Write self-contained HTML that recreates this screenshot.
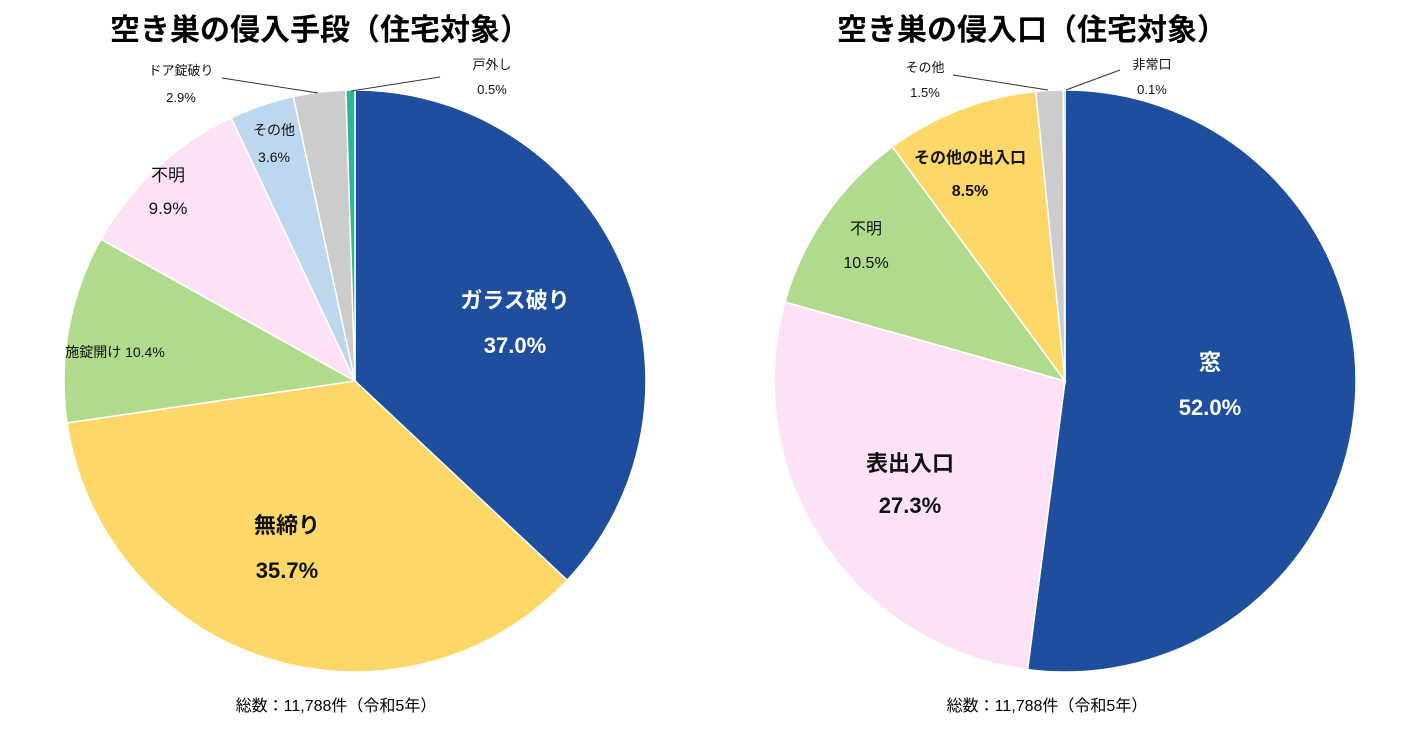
<!DOCTYPE html>
<html><head><meta charset="utf-8">
<style>
body{margin:0;background:#fff;width:1420px;height:726px;overflow:hidden;font-family:"Liberation Sans","Noto Sans CJK JP",sans-serif;}
svg text{font-family:"Liberation Sans","Noto Sans CJK JP",sans-serif;}
</style></head>
<body>
<svg id="chart" width="1420" height="726">
<text x="320" y="40" font-size="30" font-weight="bold" text-anchor="middle">空き巣の侵入手段（住宅対象）</text>
<text x="1032" y="40" font-size="30" font-weight="bold" text-anchor="middle">空き巣の侵入口（住宅対象）</text>
<text x="336" y="711" font-size="16" text-anchor="middle">総数：11,788件（令和5年）</text>
<text x="1047" y="711" font-size="16" text-anchor="middle">総数：11,788件（令和5年）</text>
<g id="left"></g>
<g id="right"></g>
</svg>
<script>
const leftCategories=["ガラス破り","無締り","施錠開け","不明","その他","ドア錠破り","戸外し"];
const leftValues=[37.0,35.7,10.4,9.9,3.6,2.9,0.5];
const leftColors=["#1f4e9f","#fdd868","#b1db8c","#fde1f7","#bcd7ee","#cccccc","#2cb49c"];
const rightCategories=["窓","表出入口","不明","その他の出入口","その他","非常口"];
const rightValues=[52.0,27.3,10.5,8.5,1.5,0.1];
const rightColors=["#1f4e9f","#fde1f7","#b1db8c","#fdd868","#cccccc","#2cb49c"];
const NS="http://www.w3.org/2000/svg";
function angleScale(values){const t=values.reduce((a,b)=>a+b,0);return v=>v/t*2*Math.PI;}
function drawPie(g,cx,cy,r,cats,vals,cols){
  const sc=angleScale(vals);let a=0;
  vals.forEach((v,i)=>{
    const a2=a+sc(v);
    const x1=cx+r*Math.sin(a),y1=cy-r*Math.cos(a),x2=cx+r*Math.sin(a2),y2=cy-r*Math.cos(a2);
    const p=document.createElementNS(NS,"path");
    p.setAttribute("d",`M${cx},${cy}L${x1},${y1}A${r},${r} 0 ${a2-a>Math.PI?1:0} 1 ${x2},${y2}Z`);
    p.setAttribute("fill",cols[i]);p.setAttribute("stroke","#fff");p.setAttribute("stroke-width","1.5");
    
    
    g.appendChild(p);a=a2;
  });
}
drawPie(document.getElementById("left"),355,381,291,leftCategories,leftValues,leftColors);
drawPie(document.getElementById("right"),1065,381,291,rightCategories,rightValues,rightColors);
// labels: [x,y,catIdx,size,color,bold, chart]
const svg=document.getElementById("chart");
function lbl(x,y,name,pct,size,color,bold,gap){
  [[name,y],[pct,y+gap]].forEach((t,k)=>{
    const e=document.createElementNS(NS,"text");
    e.setAttribute("x",x);e.setAttribute("y",t[1]);e.setAttribute("font-size",size);
    e.setAttribute("fill",color);e.setAttribute("text-anchor","middle");
    if(bold)e.setAttribute("font-weight","bold");
    e.textContent=t[0];
    
    
    svg.appendChild(e);
  });
}
function line(x1,y1,x2,y2){const l=document.createElementNS(NS,"line");
  l.setAttribute("x1",x1);l.setAttribute("y1",y1);l.setAttribute("x2",x2);l.setAttribute("y2",y2);
  l.setAttribute("stroke","#333");l.setAttribute("stroke-width","1");
  
  
  svg.appendChild(l);}
const f=v=>v.toFixed(1)+"%";
lbl(515,308,leftCategories[0],f(leftValues[0]),22,"#fff",true,45);
lbl(287,533,leftCategories[1],f(leftValues[1]),22,"#111",true,45);
lbl(115,357,leftCategories[2]+" "+f(leftValues[2]),"",14,"#111",false,0);
lbl(168,181,leftCategories[3],f(leftValues[3]),17,"#111",false,33);
lbl(274,135,leftCategories[4],f(leftValues[4]),14,"#111",false,27);
lbl(181,75,leftCategories[5],f(leftValues[5]),13,"#111",false,27);
lbl(492,69,leftCategories[6],f(leftValues[6]),13,"#111",false,25);
line(222,78,318,93);line(440,77,351,91);
lbl(1210,370,rightCategories[0],f(rightValues[0]),22,"#fff",true,45);
lbl(910,471,rightCategories[1],f(rightValues[1]),22,"#111",true,42);
lbl(866,234,rightCategories[2],f(rightValues[2]),16,"#111",false,34);
lbl(970,163,rightCategories[3],f(rightValues[3]),16,"#111",true,33);
lbl(925,72,rightCategories[4],f(rightValues[4]),13,"#111",false,25);
lbl(1152,69,rightCategories[5],f(rightValues[5]),13,"#111",false,25);
line(953,75,1048,90);line(1120,70,1066,90);
</script>
</body></html>
